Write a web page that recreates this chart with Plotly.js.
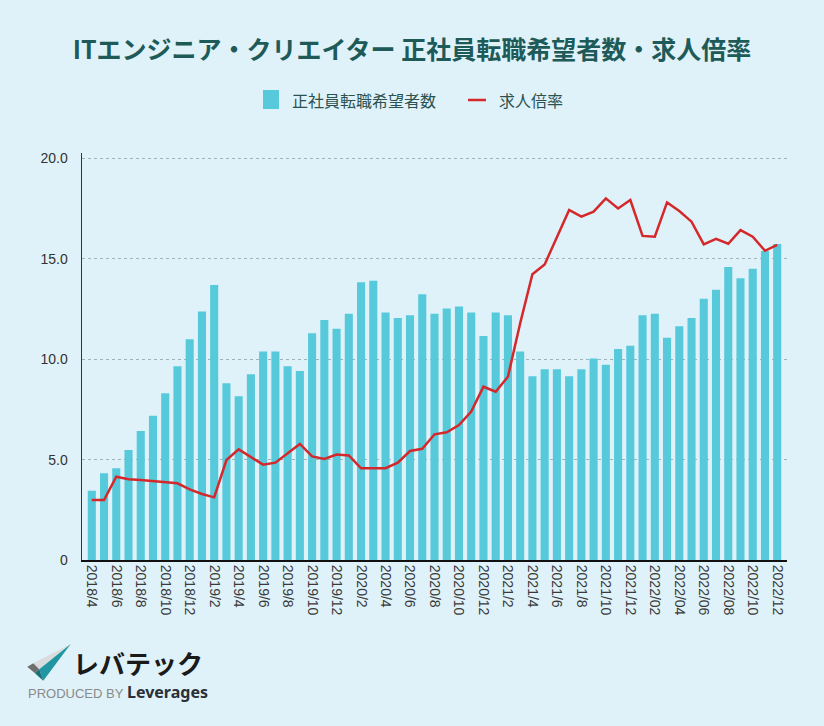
<!DOCTYPE html>
<html><head><meta charset="utf-8">
<script src="https://cdn.plot.ly/plotly-3.0.1.min.js"></script>
<style>html,body{margin:0;padding:0;background:#dff2f9;}#chart{width:824px;height:726px;}</style>
</head><body><div id="chart"></div>
<script>
const months = [
 "2018/4","2018/5","2018/6","2018/7","2018/8","2018/9","2018/10","2018/11","2018/12",
 "2019/1","2019/2","2019/3","2019/4","2019/5","2019/6","2019/7","2019/8","2019/9","2019/10","2019/11","2019/12",
 "2020/1","2020/2","2020/3","2020/4","2020/5","2020/6","2020/7","2020/8","2020/9","2020/10","2020/11","2020/12",
 "2021/1","2021/2","2021/3","2021/4","2021/5","2021/6","2021/7","2021/8","2021/9","2021/10","2021/11","2021/12",
 "2022/01","2022/02","2022/03","2022/04","2022/05","2022/06","2022/07","2022/08","2022/09","2022/10","2022/11","2022/12"
];
const tickLabels = months.filter((m, i) => i % 2 === 0);
const applicants = [
 3.45,4.32,4.57,5.48,6.42,7.19,8.30,9.65,10.99,12.38,13.70,8.80,8.15,9.25,10.38,10.38,9.65,9.41,11.29,
 11.95,11.52,12.27,13.83,13.91,12.33,12.05,12.19,13.23,12.27,12.52,12.63,12.33,11.16,12.33,12.19,10.39,9.15,
 9.50,9.50,9.15,9.50,10.04,9.73,10.51,10.67,12.19,12.27,11.07,11.64,12.05,13.01,13.46,14.59,14.03,14.51,15.39,15.74
];
const jobRatio = [
 2.99,2.99,4.15,4.02,3.98,3.92,3.87,3.82,3.52,3.29,3.12,4.98,5.51,5.11,4.75,4.85,5.31,5.78,5.16,
 5.03,5.25,5.21,4.57,4.57,4.57,4.85,5.43,5.54,6.26,6.36,6.72,7.39,8.63,8.38,9.13,11.79,14.23,
 14.72,16.10,17.43,17.10,17.35,18.01,17.51,17.93,16.14,16.10,17.81,17.38,16.85,15.72,16.00,15.75,16.43,16.10,15.40,15.69
];
const seriesNames = ['正社員転職希望者数', '求人倍率'];
const barColor = '#56c9da', lineColor = '#d4282b';

const L = 82, R = 787, T = 153, B = 560;
const px = x => (x - L) / (R - L);
const py = y => (B - y) / (B - T);
const pathPx = pts => pts.map((p, i) => (i ? 'L' : 'M') + px(p[0]).toFixed(4) + ',' + py(p[1]).toFixed(4)).join(' ') + ' Z';

const font = '"Noto Sans CJK JP", "Noto Sans", sans-serif';
const legendFont = {family:font, size:16, color:'#2b5250'};

const traces = [
 {type:'bar', name:seriesNames[0], x:months, y:applicants, marker:{color:barColor}},
 {type:'scatter', mode:'lines', name:seriesNames[1], x:months, y:jobRatio, line:{color:lineColor, width:2.5}}
];

const layout = {
 width:824, height:726,
 paper_bgcolor:'#dff2f9', plot_bgcolor:'#dff2f9',
 margin:{l:L, r:824-R, t:T, b:726-B},
 bargap:0.34,
 showlegend:false,
 font:{family:font, color:'#333'},
 title:{text:'<b>ITエンジニア・クリエイター 正社員転職希望者数・求人倍率</b>',
  x:0.5, xref:'container', xanchor:'center', y:1 - 50/726, yref:'container', yanchor:'middle',
  font:{family:font, size:25, color:'#1e5a58'}},
 xaxis:{type:'category', range:[-0.8, 56.8], tickmode:'array', tickvals:tickLabels, ticktext:tickLabels,
  tickangle:90, tickfont:{family:'"Liberation Sans", Arial, sans-serif', size:14, color:'#3a3a3a'},
  showline:true, linecolor:'#111', linewidth:2, ticks:'', showgrid:false, fixedrange:true},
 yaxis:{range:[0, 20.27], tickvals:[0,5,10,15,20], ticktext:['0','5.0','10.0','15.0','20.0'],
  tickfont:{family:'"Liberation Sans", Arial, sans-serif', size:14, color:'#333'},
  ticklabelstandoff:10,
  showline:true, linecolor:'#333', linewidth:1.5, ticks:'',
  showgrid:true, gridcolor:'#9fb3b8', griddash:'dot', gridwidth:1, zeroline:false, fixedrange:true},
 shapes:[
  {type:'rect', xref:'paper', yref:'paper', x0:px(263), x1:px(279), y0:py(109), y1:py(90), fillcolor:barColor, line:{width:0}},
  {type:'line', xref:'paper', yref:'paper', x0:px(468), x1:px(486), y0:py(100), y1:py(100), line:{color:lineColor, width:2.5}},
  {type:'path', xref:'paper', yref:'paper', path:pathPx([[33.3,663.3],[70.7,644],[39.3,669.3]]), fillcolor:'#d9dcdc', line:{width:0}},
  {type:'path', xref:'paper', yref:'paper', path:pathPx([[27.3,666.7],[33.3,663.3],[39.3,669.3],[35,673.3]]), fillcolor:'#6e6e6e', line:{width:0}},
  {type:'path', xref:'paper', yref:'paper', path:pathPx([[39.3,669.3],[70.7,644],[43.3,680.7]]), fillcolor:'#2196a3', line:{width:0}},
  {type:'path', xref:'paper', yref:'paper', path:pathPx([[35,673.3],[39.3,669.3],[43.3,680.7]]), fillcolor:'#166f7a', line:{width:0}}
 ],
 annotations:[
  {text:seriesNames[0], xref:'paper', yref:'paper', x:px(290), y:py(100), xanchor:'left', yanchor:'middle', showarrow:false, font:legendFont},
  {text:seriesNames[1], xref:'paper', yref:'paper', x:px(497), y:py(100), xanchor:'left', yanchor:'middle', showarrow:false, font:legendFont},
  {text:'<b>レバテック</b>', xref:'paper', yref:'paper', x:px(71), y:py(662), xanchor:'left', yanchor:'middle',
   showarrow:false, font:{family:font, size:26, color:'#1a1a1a'}},
  {text:'PRODUCED BY', xref:'paper', yref:'paper', x:px(26), y:py(693), xanchor:'left', yanchor:'middle',
   showarrow:false, font:{family:'"Liberation Sans", sans-serif', size:13, color:'#8a8a8a'}},
  {text:'<b>Leverages</b>', xref:'paper', yref:'paper', x:px(125), y:py(692), xanchor:'left', yanchor:'middle',
   showarrow:false, font:{family:'"Noto Sans", sans-serif', size:16, color:'#2a2f38'}}
 ]
};
Plotly.newPlot('chart', traces, layout, {displayModeBar:false, staticPlot:true});
</script></body></html>
